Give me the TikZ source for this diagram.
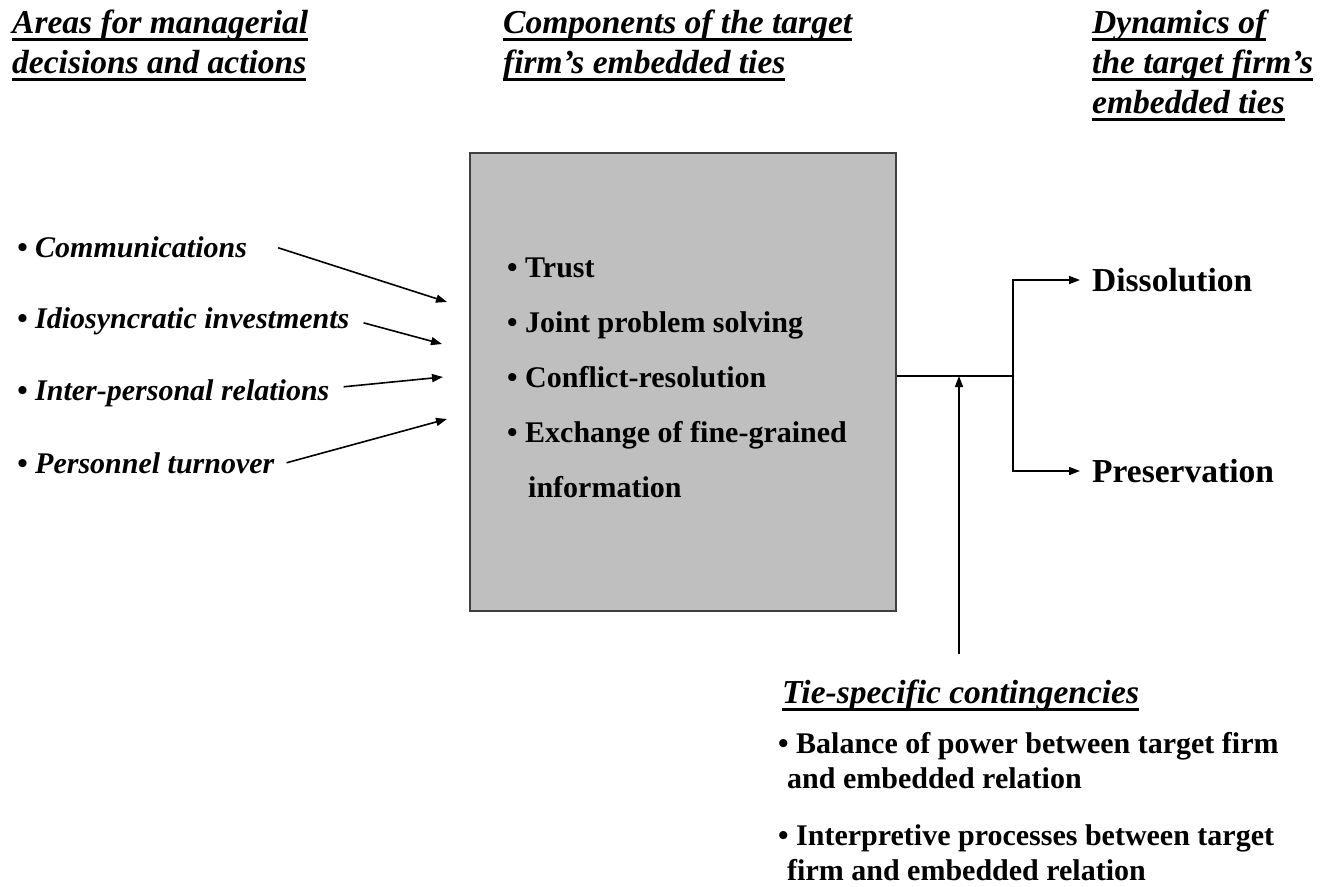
\documentclass[tikz,border=0pt]{standalone}
\usepackage{xcolor}
\usepackage{fontspec}
\setmainfont{Liberation Serif}
\usepackage{tikz}
\usetikzlibrary{arrows.meta}
\definecolor{boxgray}{RGB}{191,191,191}
\definecolor{boxline}{RGB}{64,64,64}
\newcommand{\hdline}[1]{\setbox0=\hbox{#1}\rlap{\rule[-7.6pt]{\wd0}{2.4pt}}\box0}

\begin{document}
\begin{tikzpicture}[x=1pt,y=1pt,yscale=-1,xscale=1,
        hd/.style={anchor=north west,inner sep=0pt,align=left,font=\fontsize{33.5}{40}\selectfont\bfseries\itshape},
        item/.style={anchor=base west,inner sep=0pt,font=\fontsize{30}{36}\selectfont\bfseries\itshape},
        outcome/.style={anchor=west,inner xsep=12pt,inner ysep=0pt,font=\fontsize{33.5}{40}\selectfont\bfseries},
        arr/.style={line width=1.6pt,-{Triangle[length=11pt,width=8pt]}}]
        \useasboundingbox (0,0) rectangle (1338,886);

        \node[hd] (hdareas) at (12,5) {\strut\hdline{Areas for managerial}\\\hdline{decisions and actions}};
        \node[hd] (hdcomp) at (503,5) {\strut\hdline{Components of the target}\\\hdline{firm’s embedded ties}};
        \node[hd] (hddyn) at (1092,5) {\strut\hdline{Dynamics of}\\\hdline{the target firm’s}\\\hdline{embedded ties}};

        \node[item] (comm) at (17,257) {• Communications};
        \node[item] (idio) at (17,328) {• Idiosyncratic investments};
        \node[item] (inter) at (17,400) {• Inter-personal relations};
        \node[item] (pers) at (17,473) {• Personnel turnover};

        \node[draw=boxline,fill=boxgray,line width=1.5pt,minimum width=426pt,minimum height=458pt,inner sep=0pt] (comp) at (683,382) {};
        \node[anchor=north west,inner sep=0pt,align=left,font=\fontsize{30}{55}\selectfont\bfseries] (complist) at (507,238.5) {\strut• Trust\\• Joint problem solving\\• Conflict-resolution\\• Exchange of fine-grained\\\hspace*{21pt}information};

        \coordinate (in1) at (447,302);
        \coordinate (in2) at (442,344);
        \coordinate (in3) at (443,377);
        \coordinate (in4) at (447,419);
        \draw[arr] ([shift={(31,1)}]comm.east) -- (in1);
        \draw[arr] ([shift={(14,2)}]idio.east) -- (in2);
        \draw[arr] ([shift={(14,-6)}]inter.east) -- (in3);
        \draw[arr] ([shift={(12,0)}]pers.east) -- (in4);

        \node[outcome] (diss) at (1080,280) {Dissolution};
        \node[outcome] (pres) at (1080,471) {Preservation};
        \coordinate (split) at (1013,376);
        \draw[line width=1.1pt] (comp.east |- split) -- (split);
        \draw[arr] (split) |- (diss.west);
        \draw[arr] (split) |- (pres.west);

        \coordinate (tiefoot) at (959,654);
        \draw[arr] (tiefoot) -- (tiefoot |- split);
        \node[hd] (hdtie) at (782,675) {\strut\hdline{Tie-specific contingencies}};
        \node[anchor=north west,inner sep=0pt,align=left,font=\fontsize{30}{35}\selectfont\bfseries] (balance) at (778,728.5) {\strut• Balance of power between target firm\\\hspace*{9pt}and embedded relation};
        \node[anchor=north west,inner sep=0pt,align=left,font=\fontsize{30}{35}\selectfont\bfseries] (interp) at (778,820.5) {\strut• Interpretive processes between target\\\hspace*{9pt}firm and embedded relation};
\end{tikzpicture}
\end{document}
